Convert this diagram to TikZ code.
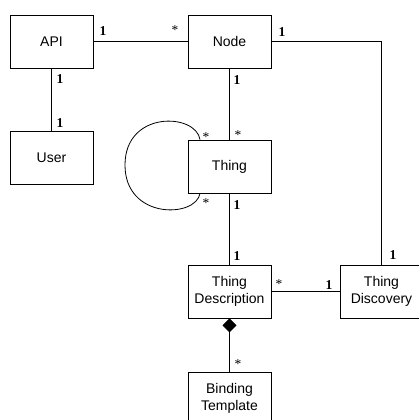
\documentclass[tikz,border=0pt]{standalone}
\usepackage{fontspec}
\setmainfont{Liberation Serif}
\setsansfont{Liberation Sans}
\usetikzlibrary{arrows.meta}
\begin{document}
\begin{tikzpicture}[x=1pt,y=-1pt,
  cls/.style={draw, line width=0.8pt, minimum width=83pt, minimum height=53pt, inner sep=0pt,
    align=center, font=\sffamily\fontsize{14}{17}\selectfont},
  conn/.style={line width=0.8pt},
  mone/.style={font=\bfseries\fontsize{13.5}{13.5}\selectfont, inner sep=0pt},
  mmany/.style={font=\fontsize{13.5}{13.5}\selectfont, inner sep=0pt}]
\useasboundingbox (0,0) rectangle (419,420);
\clip (0,0) rectangle (419,420);
\node[cls] (api) at (51.5,41.5) {API};
\node[cls] (nodebox) at (229.5,41.5) {Node};
\node[cls] (user) at (51.5,157.5) {User};
\node[cls] (thing) at (229.5,166.5) {Thing};
\node[cls] (td) at (229.5,291.5) {Thing\\Description};
\node[cls] (disc) at (381.5,291.5) {Thing\\Discovery};
\node[cls] (bt) at (229.5,398.5) {Binding\\Template};

\draw[conn] (api.east) -- (nodebox.west);
\draw[conn] (api.south) -- (user.north);
\draw[conn] (nodebox.south) -- (thing.north);
\draw[conn] (nodebox.east) -| (disc.north);
\draw[conn] (thing.south) -- (td.north);
\draw[conn] (td.east) -- (disc.west);
\draw[conn, -{Diamond[length=14pt,width=14pt]}] (bt.north) -- (td.south);
\draw[conn] ([xshift=-29.5pt]thing.north) .. controls (196,113) and (125,110) .. (125,165)
  .. controls (125,220) and (196,218) .. ([xshift=-29.5pt]thing.south);

\node[mone] (l1) at (103,31) {1};
\node[mmany] (l2) at (175,30) {*};
\node[mone] (l3) at (60,79) {1};
\node[mone] (l4) at (60,123) {1};
\node[mone] (l5) at (282,32) {1};
\node[mone] (l6) at (237,80) {1};
\node[mmany] (l7) at (238,135) {*};
\node[mmany] (l8) at (206,137) {*};
\node[mmany] (l9) at (206,203) {*};
\node[mone] (l10) at (237,205) {1};
\node[mone] (l11) at (237,256) {1};
\node[mmany] (l12) at (279,284) {*};
\node[mone] (l13) at (329,285) {1};
\node[mone] (l14) at (393,255) {1};
\node[mmany] (l15) at (238,364) {*};
\end{tikzpicture}
\end{document}
